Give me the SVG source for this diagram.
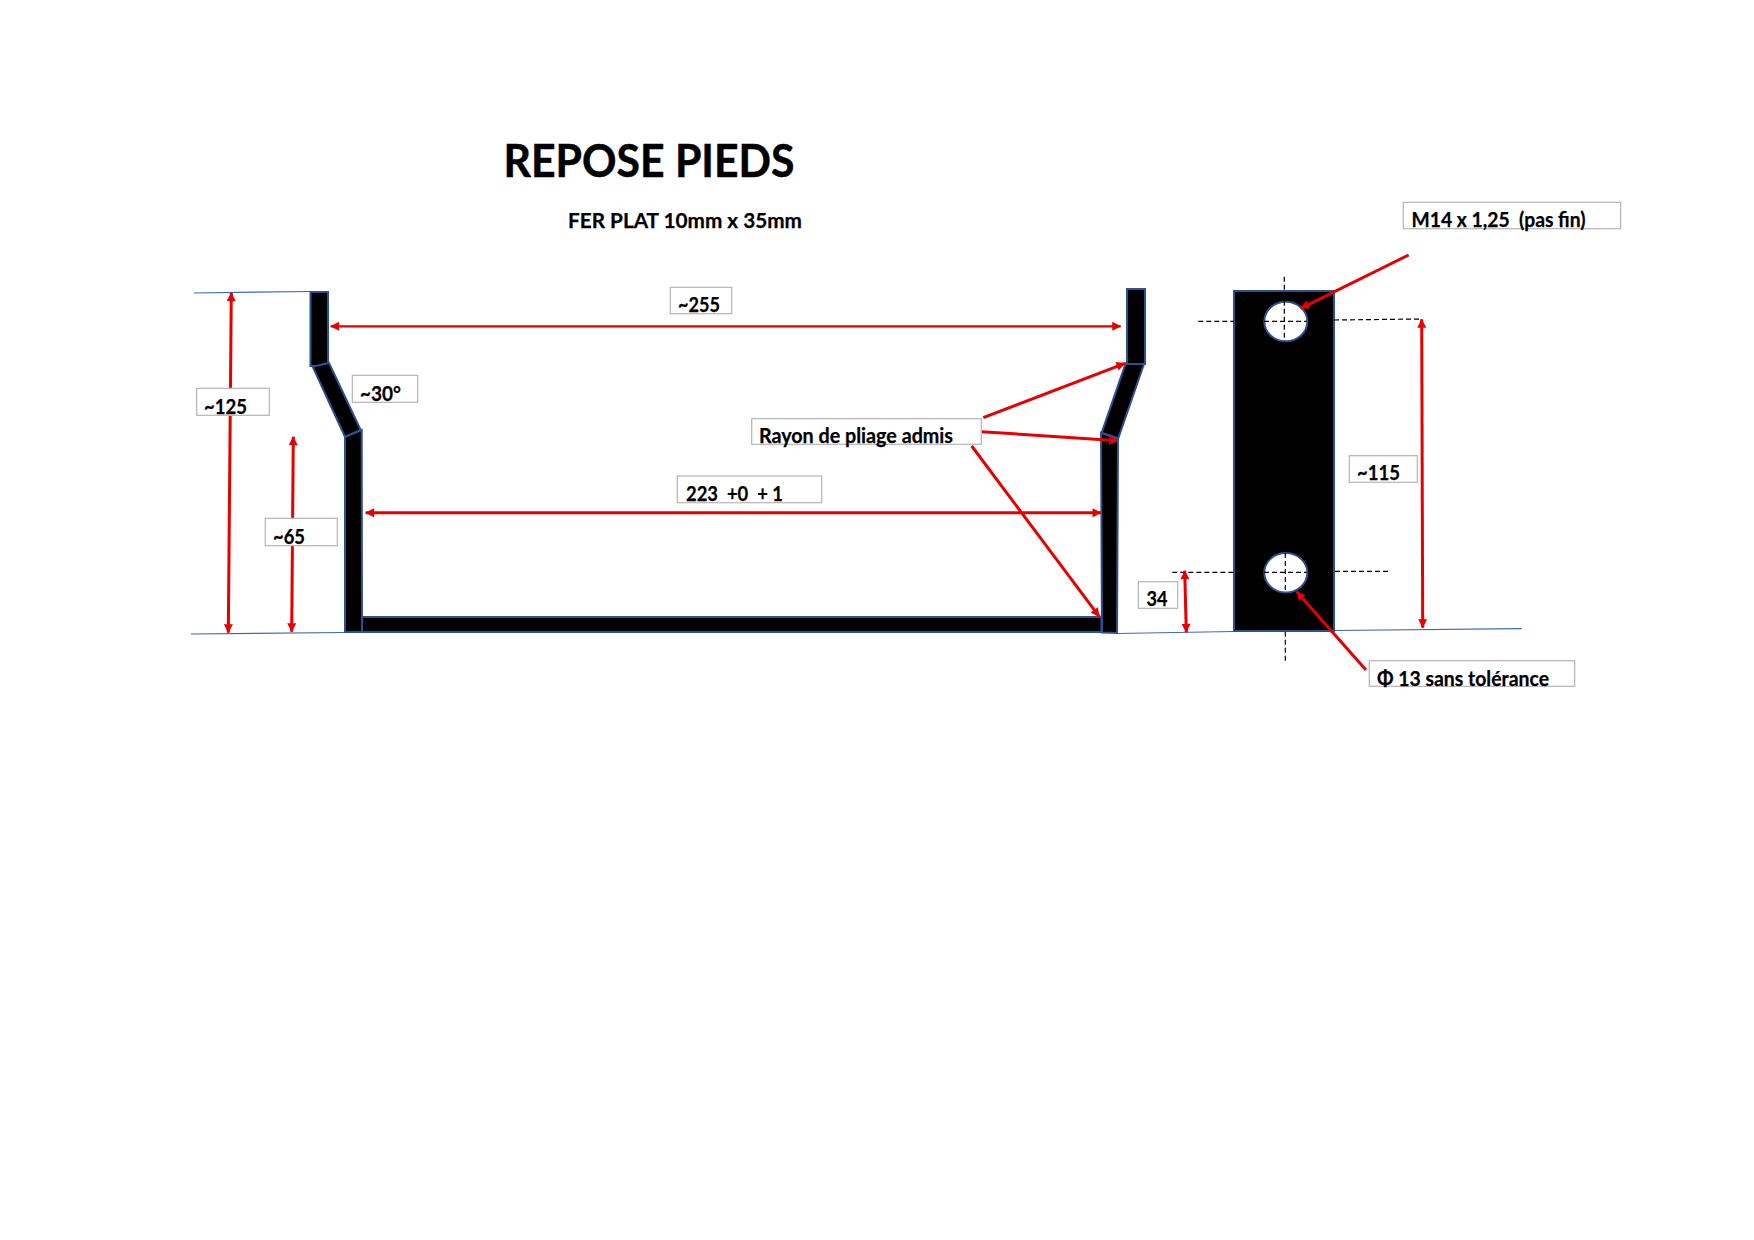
<svg xmlns="http://www.w3.org/2000/svg" width="1754" height="1240" viewBox="0 0 1754 1240">
<style>
text{font-family:"Lato","Liberation Sans",sans-serif;font-weight:700;fill:#000;font-size:21px;stroke:#000;stroke-width:.25}
.box{fill:#fff;stroke:#b4b4b4;stroke-width:1.2}
.part{fill:#000;stroke:#2f5090;stroke-width:2}
.base{fill:none;stroke:#4068b0;stroke-width:1.2}
.dash{fill:none;stroke:#000;stroke-width:1.2;stroke-dasharray:5 3}
.dim{fill:none;stroke:#e60000;stroke-width:3}
.thin{stroke-width:2.2}
.two{marker-start:url(#hs);marker-end:url(#he)}
.one{marker-end:url(#he)}
</style>
<defs>
<marker id="he" viewBox="0 0 8 8" refX="7.5" refY="4" markerUnits="userSpaceOnUse" markerWidth="10" markerHeight="9" orient="auto"><path d="M0 0L8 4L0 8Z" fill="#e60000"/></marker>
<marker id="hs" viewBox="0 0 8 8" refX="0.5" refY="4" markerUnits="userSpaceOnUse" markerWidth="10" markerHeight="9" orient="auto"><path d="M8 0L0 4L8 8Z" fill="#e60000"/></marker>
</defs>
<rect width="1754" height="1240" fill="#fff"/>
<g id="title"><text x="503.5" y="176.5" style="font-size:46px;stroke-width:.5" textLength="291" lengthAdjust="spacingAndGlyphs">REPOSE PIEDS</text></g>
<g id="subtitle"><text x="568" y="228" textLength="234" lengthAdjust="spacingAndGlyphs">FER PLAT 10mm x 35mm</text></g>

<g id="reference-lines">
<path class="base" d="M194 293L310 291.5"/>
<path class="base" d="M191 634L345 632.5"/>
<path class="base" d="M1117 633.5L1234 631.5L1334 630.5L1521.7 628.7"/>
</g>

<g id="front-view">
<polygon class="part" points="310.5,292 328,292 328,366 310.5,366"/>
<polygon class="part" points="312.7,366.7 329,363 360.7,430 345,437"/>
<polygon class="part" points="345,437 361.7,430 362,632 345,632"/>
<rect class="part" x="362" y="617" width="739.5" height="15"/>
<polygon class="part" points="1101,432.7 1118,439 1117,633 1102,632.5"/>
<polygon class="part" points="1101.7,432.7 1125.7,363.3 1144,364 1118.3,438.3"/>
<rect class="part" x="1127" y="289" width="18" height="75"/>
</g>

<g id="side-view">
<rect class="part" x="1234" y="291" width="100" height="340"/>
<ellipse class="part" style="fill:#fff" cx="1285.8" cy="321.5" rx="21.5" ry="19.7"/>
<ellipse class="part" style="fill:#fff" cx="1285.8" cy="572.8" rx="21.5" ry="19.7"/>
</g>

<g id="centre-lines">
<path class="dash" d="M1284.3 276.7L1284.3 340"/>
<path class="dash" d="M1285.3 553L1285.3 591.7"/>
<path class="dash" d="M1285.3 631.7L1285.3 662.7"/>
<path class="dash" d="M1198.3 321.3L1234 321.3"/>
<path class="dash" d="M1264 321.3L1306.7 321.3"/>
<path class="dash" d="M1334 320L1421.7 319"/>
<path class="dash" d="M1172.3 572.3L1234 572.3"/>
<path class="dash" d="M1264 572.3L1306.7 572.3"/>
<path class="dash" d="M1335 571.3L1389.3 571.3"/>
</g>

<g id="connectors">
<path class="dim two" d="M231.3 292.7L228.3 632.7"/>
<path class="dim two" d="M293.3 436.7L291.7 631.7"/>
<path class="dim thin two" d="M330.7 326.3L1120.7 326.3"/>
<path class="dim two" d="M365.7 512.8L1101 512.8"/>
<path class="dim two" d="M1421.7 319.3L1422.7 627.7"/>
<path class="dim two" d="M1184.7 570.7L1186.3 632.3"/>
<path class="dim one" d="M983.3 417.7L1125 363.3"/>
<path class="dim one" d="M981.3 431.7L1117.7 440.7"/>
<path class="dim one" d="M971.7 446L1099.3 616.7"/>
<path class="dim one" d="M1408.7 255L1300.7 308.3"/>
<path class="dim one" d="M1366 670L1296.7 591.7"/>
</g>

<g id="label-125"><rect class="box" x="196.7" y="388.3" width="72.6" height="27"/><text x="204" y="413.5" textLength="43" lengthAdjust="spacingAndGlyphs">~125</text></g>
<g id="label-30"><rect class="box" x="352.3" y="375.3" width="65.4" height="27"/><text x="360" y="400.5" textLength="41" lengthAdjust="spacingAndGlyphs">~30°</text></g>
<g id="label-65"><rect class="box" x="265.3" y="518.3" width="72" height="27.4"/><text x="273" y="544" textLength="32" lengthAdjust="spacingAndGlyphs">~65</text></g>
<g id="label-255"><rect class="box" x="670.3" y="287.3" width="61.4" height="26.4"/><text x="678" y="312" textLength="42" lengthAdjust="spacingAndGlyphs">~255</text></g>
<g id="label-223"><rect class="box" x="677.3" y="476" width="144.4" height="26.7"/><text x="686" y="501" xml:space="preserve" textLength="97" lengthAdjust="spacingAndGlyphs">223  +0  + 1</text></g>
<g id="label-rayon"><rect class="box" x="751.7" y="418.7" width="229.6" height="25.6"/><text x="759" y="443" textLength="194" lengthAdjust="spacingAndGlyphs">Rayon de pliage admis</text></g>
<g id="label-115"><rect class="box" x="1349.3" y="455.7" width="68" height="26.6"/><text x="1357" y="480" textLength="43" lengthAdjust="spacingAndGlyphs">~115</text></g>
<g id="label-34"><rect class="box" x="1138.3" y="581.7" width="39.4" height="26.6"/><text x="1146.5" y="606" textLength="21" lengthAdjust="spacingAndGlyphs">34</text></g>
<g id="label-m14"><rect class="box" x="1403.3" y="202.3" width="217.4" height="26.4"/><text x="1411.5" y="227" xml:space="preserve" textLength="174" lengthAdjust="spacingAndGlyphs">M14 x 1,25  (pas fin)</text></g>
<g id="label-phi"><rect class="box" x="1369.3" y="660.7" width="205.4" height="25.6"/><text x="1377" y="685.5" textLength="172" lengthAdjust="spacingAndGlyphs">Φ 13 sans tolérance</text></g>
</svg>
